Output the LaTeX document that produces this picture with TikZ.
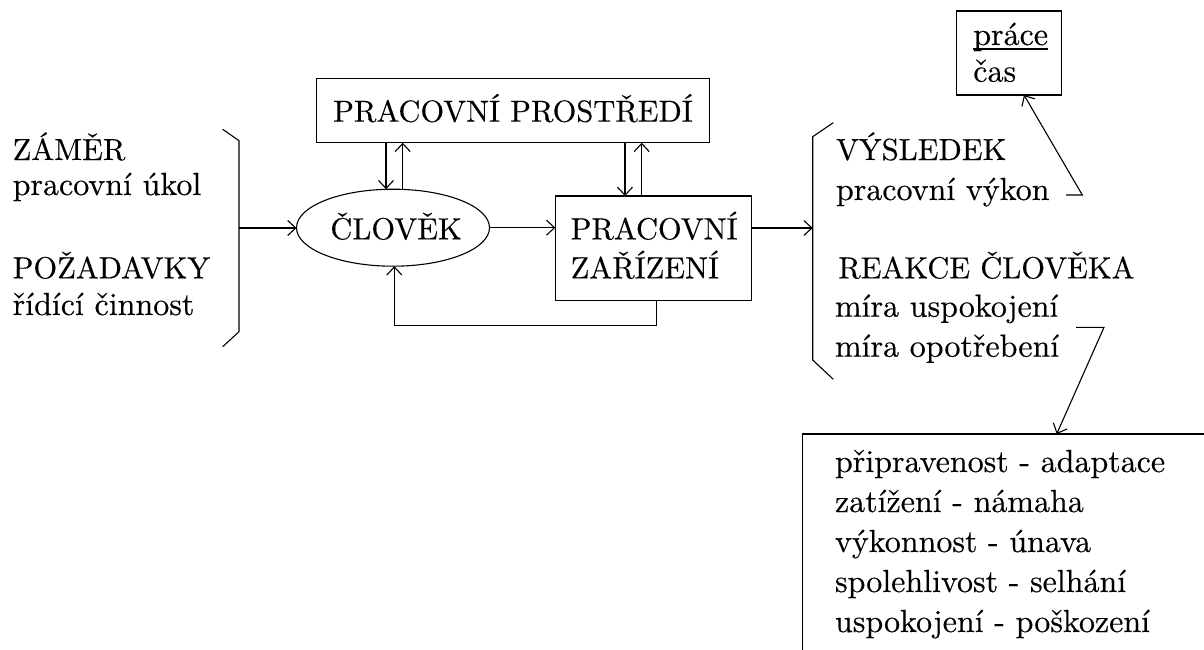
\documentclass[tikz,border=0pt]{standalone}
\usepackage{fontspec}
\usetikzlibrary{arrows.meta,shapes.geometric}
% one optical design, scaled, for all lettering
\newfontfamily\capsfont{lmroman10-regular.otf}[FakeBold=0.3]
\newfontfamily\lowerfont{lmroman10-regular.otf}[FakeBold=0.3]

\begin{document}
\begin{tikzpicture}[x=1pt,y=-1pt,
  line width=1.1pt,
  every node/.style={inner sep=0pt,outer sep=0pt},
  capt/.style={anchor=base west,font=\capsfont\fontsize{30.5}{36}\selectfont},
  lowt/.style={anchor=base west,font=\lowerfont\fontsize{32}{38}\selectfont},
  ccapt/.style={capt,anchor=base},
  box/.style={draw,rectangle},
  arr/.style={-{Straight Barb[length=8pt,width=15pt,line width=1.1pt]}}]
\useasboundingbox (0,0) rectangle (1204,650);
\clip (0,0) rectangle (1204,650);

% left input block
\node[capt] (zamer) at (12.7,160) {ZÁMĚR};
\node[lowt] (ukol)  at (12.7,195) {pracovní úkol};
\node[capt] (poz)   at (12.7,278.3) {POŽADAVKY};
\node[lowt] (rid)   at (12.7,315) {řídící činnost};
\draw (222.7,129.3) -- (239,140.7) -- (239,331.7) -- (222.7,346.7);
\coordinate (lb) at (239,228);

% central system
\node[box,minimum width=393,minimum height=64.5] (pp) at (513,110.5) {};
\node[ccapt] (pptext) at (513,121.7) {PRACOVNÍ PROSTŘEDÍ};
\node[draw,ellipse,minimum width=193,minimum height=77] (clovek) at (393,227.7) {};
\node[ccapt] (clovektext) at (396,239.3) {ČLOVĚK};
\node[box,minimum width=196.4,minimum height=104.7] (pz) at (653.5,248.35) {};
\node[capt] (pz1) at (570.7,239.3) {PRACOVNÍ};
\node[capt] (pz2) at (570.7,278.3) {ZAŘÍZENÍ};

\draw[arr] (lb) -- (lb -| clovek.west);
\draw[arr] ([xshift=-7pt]pp.south -| clovek.north) -- ([xshift=-7pt]clovek.north);
\draw[arr] ([xshift=9.7pt]clovek.north) -- ([xshift=9.7pt]pp.south -| clovek.north);
\draw[arr] ([xshift=-28.5pt]pp.south -| pz.north) -- ([xshift=-28.5pt]pz.north);
\draw[arr] ([xshift=-11.8pt]pz.north) -- ([xshift=-11.8pt]pp.south -| pz.north);
\draw[arr] (clovek.east) -- (clovek.east -| pz.west);
\draw[arr] ([xshift=3.2pt]pz.south) -- ++(0,25) -| ([xshift=1.3pt]clovek.south);

% right output block
\coordinate (rb) at (812.7,228);
\draw[arr] (lb -| pz.east) -- (rb);
\draw (833.3,122.7) -- (812.7,136.7) -- (812.7,360) -- (833.3,379.3);
\node[capt] (vysl)  at (836,160) {VÝSLEDEK};
\node[lowt] (vykon) at (836,200) {pracovní výkon};
\node[capt] (reak)  at (838.3,278.3) {REAKCE ČLOVĚKA};
\node[lowt] (usp)   at (835,316.7) {míra uspokojení};
\node[lowt] (opo)   at (835,356.7) {míra opotřebení};

% work / time box
\node[box,minimum width=105,minimum height=84] (cas) at (1009.2,53) {};
\node[lowt] (prace) at (973.3,45) {práce};
\draw ([yshift=-4pt]prace.base west) -- ([yshift=-4pt]prace.base east);
\node[lowt] (castext) at (973.3,81.7) {čas};
\coordinate (vk) at (1066,195);
\draw[arr] (vk) -- (1082.3,195) -- (cas.south -| 1024,0);

% list of reactions
\node[box,anchor=north west,minimum width=450,minimum height=260] (seznam) at (802.7,434) {};
\node[lowt] (s1) at (835,472) {připravenost - adaptace};
\node[lowt] (s2) at (835,512) {zatížení - námaha};
\node[lowt] (s3) at (835,552) {výkonnost - únava};
\node[lowt] (s4) at (835,592) {spolehlivost - selhání};
\node[lowt] (s5) at (835,632) {uspokojení - poškození};
\coordinate (mr) at (1076,327.3);
\draw[arr] (mr) -- (1104,327.3) -- ([xshift=254pt]seznam.north west);
\end{tikzpicture}
\end{document}
